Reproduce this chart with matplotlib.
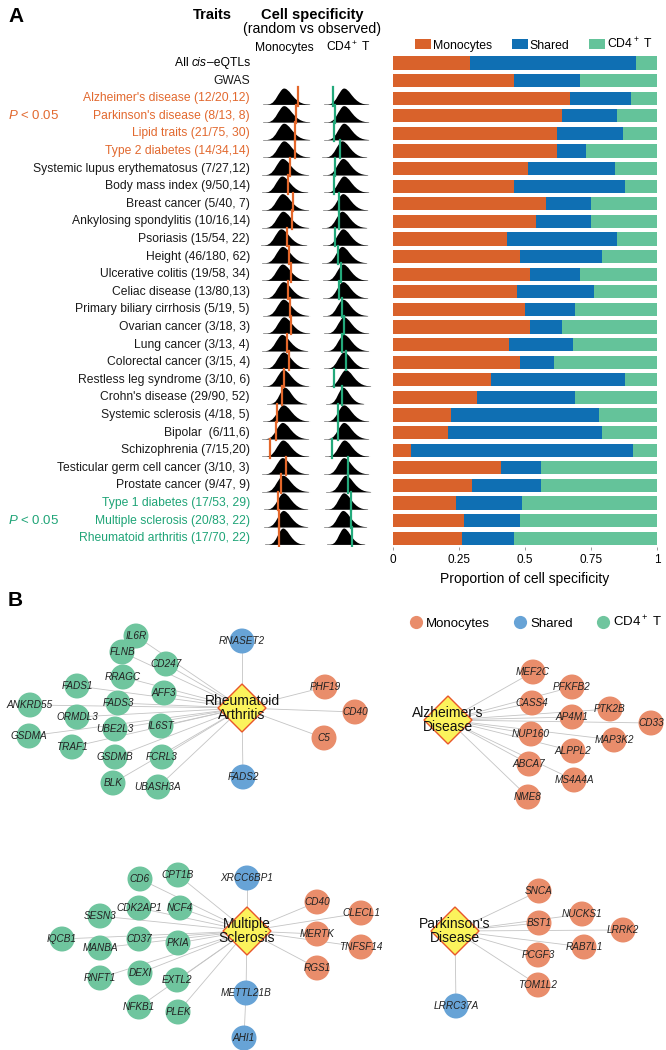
import matplotlib
matplotlib.use('Agg')
import matplotlib.pyplot as plt
import matplotlib.transforms as mtransforms
from matplotlib.patches import Circle, Polygon
from matplotlib.lines import Line2D

plt.rcParams['font.family'] = ['Liberation Sans', 'DejaVu Sans']
plt.rcParams['mathtext.fontset'] = 'custom'
plt.rcParams['mathtext.rm'] = 'Liberation Sans'
plt.rcParams['mathtext.it'] = 'Liberation Sans:italic'
plt.rcParams['mathtext.bf'] = 'Liberation Sans:bold'

W, H = 666, 1050

# ---------------- Panel A data ----------------
traits = ['All cis\u2013eQTLs', 'GWAS',
          "Alzheimer's disease (12/20,12)", "Parkinson's disease (8/13, 8)",
          'Lipid traits (21/75, 30)', 'Type 2 diabetes (14/34,14)',
          'Systemic lupus erythematosus (7/27,12)', 'Body mass index (9/50,14)',
          'Breast cancer (5/40, 7)', 'Ankylosing spondylitis (10/16,14)',
          'Psoriasis (15/54, 22)', 'Height (46/180, 62)',
          'Ulcerative colitis (19/58, 34)', 'Celiac disease (13/80,13)',
          'Primary biliary cirrhosis (5/19, 5)', 'Ovarian cancer (3/18, 3)',
          'Lung cancer (3/13, 4)', 'Colorectal cancer (3/15, 4)',
          'Restless leg syndrome (3/10, 6)', "Crohn's disease (29/90, 52)",
          'Systemic sclerosis (4/18, 5)', 'Bipolar  (6/11,6)',
          'Schizophrenia (7/15,20)', 'Testicular germ cell cancer (3/10, 3)',
          'Prostate cancer (9/47, 9)', 'Type 1 diabetes (17/53, 29)',
          'Multiple sclerosis (20/83, 22)', 'Rheumatoid arthritis (17/70, 22)']
trait_group = ['n', 'n', 'mono', 'mono', 'mono', 'mono'] + ['n'] * 19 + ['cd4', 'cd4', 'cd4']

frac_mono = [0.29, 0.46, 0.67, 0.64, 0.62, 0.62, 0.51, 0.46, 0.58, 0.54,
             0.43, 0.48, 0.52, 0.47, 0.50, 0.52, 0.44, 0.48, 0.37, 0.32,
             0.22, 0.21, 0.07, 0.41, 0.30, 0.24, 0.27, 0.26]
frac_shared = [0.63, 0.25, 0.23, 0.21, 0.25, 0.11, 0.33, 0.42, 0.17, 0.21,
               0.42, 0.31, 0.19, 0.29, 0.19, 0.12, 0.24, 0.13, 0.51, 0.37,
               0.56, 0.58, 0.84, 0.15, 0.26, 0.25, 0.21, 0.20]
frac_cd4 = [0.08, 0.29, 0.10, 0.15, 0.13, 0.27, 0.16, 0.12, 0.25, 0.25,
            0.15, 0.21, 0.29, 0.24, 0.31, 0.36, 0.32, 0.39, 0.12, 0.31,
            0.22, 0.21, 0.09, 0.44, 0.44, 0.51, 0.52, 0.54]

# random (permutation) distributions: peak position & relative width, rows 2..27
rand_mono_peak = [0.36, 0.36, 0.36, 0.36, 0.33, 0.32, 0.33, 0.34, 0.30, 0.33,
                  0.33, 0.35, 0.35, 0.36, 0.32, 0.35, 0.35, 0.38, 0.35, 0.33,
                  0.34, 0.33, 0.34, 0.35, 0.35, 0.34]
rand_cd4_peak = [0.34, 0.34, 0.34, 0.30, 0.32, 0.34, 0.32, 0.30, 0.32, 0.30,
                 0.32, 0.32, 0.32, 0.34, 0.34, 0.34, 0.38, 0.32, 0.34, 0.34,
                 0.35, 0.34, 0.38, 0.34, 0.32, 0.34]
rand_width = [1.0, 1.0, 1.0, 1.0, 1.0, 1.0, 1.0, 1.0, 1.0, 1.0,
              1.0, 1.0, 1.0, 1.0, 1.0, 1.0, 1.0, 0.85, 1.0, 1.0,
              1.0, 1.0, 1.0, 0.95, 0.95, 0.85]
# typical density shape (relative height at offsets in units of spread)
ridge_offsets = [-1.2, -1.0, -0.8, -0.6, -0.4, -0.2, -0.1, 0.0, 0.1, 0.2, 0.4, 0.6,
                 0.8, 1.0, 1.2, 1.4, 1.6, 1.8, 2.0]
ridge_heights = [0.0, 0.04, 0.14, 0.34, 0.62, 0.87, 0.96, 1.0, 0.99, 0.95, 0.80, 0.59,
                 0.40, 0.25, 0.14, 0.07, 0.03, 0.01, 0.0]

# ---------------- Panel B data ----------------
ra_genes = ['IL6R', 'RNASET2', 'FLNB', 'CD247', 'RRAGC', 'AFF3', 'FADS1', 'FADS3',
            'ANKRD55', 'ORMDL3', 'UBE2L3', 'IL6ST', 'GSDMA', 'TRAF1', 'GSDMB',
            'FCRL3', 'BLK', 'UBASH3A', 'FADS2', 'PHF19', 'CD40', 'C5']
ra_type = ['cd4', 'shared', 'cd4', 'cd4', 'cd4', 'cd4', 'cd4', 'cd4', 'cd4', 'cd4',
           'cd4', 'cd4', 'cd4', 'cd4', 'cd4', 'cd4', 'cd4', 'cd4', 'shared',
           'mono', 'mono', 'mono']
ra_x = [136, 242, 122, 166, 123, 164, 77, 118, 30, 77, 115, 161, 29, 72, 115,
        162, 113, 158, 243, 325, 355, 324]
ra_y = [636, 641, 652, 664, 677, 693, 686, 703, 705, 717, 729, 726, 736, 747,
        757, 757, 783, 787, 777, 687, 712, 738]

ad_genes = ['MEF2C', 'PFKFB2', 'CASS4', 'PTK2B', 'AP4M1', 'CD33', 'NUP160',
            'MAP3K2', 'ALPPL2', 'ABCA7', 'MS4A4A', 'NME8']
ad_type = ['mono'] * 12
ad_x = [533, 572, 532, 610, 572, 651, 531, 614, 573, 529, 574, 528]
ad_y = [672, 687, 703, 709, 717, 723, 734, 740, 751, 764, 780, 797]

ms_genes = ['XRCC6BP1', 'CD6', 'CPT1B', 'CDK2AP1', 'NCF4', 'SESN3', 'IQCB1',
            'MANBA', 'CD37', 'PKIA', 'DEXI', 'EXTL2', 'RNFT1', 'NFKB1', 'PLEK',
            'METTL21B', 'AHI1', 'CD40', 'MERTK', 'RGS1', 'CLECL1', 'TNFSF14']
ms_type = ['shared'] + ['cd4'] * 14 + ['shared', 'shared'] + ['mono'] * 5
ms_x = [247, 140, 178, 139, 180, 100, 62, 100, 139, 178, 140, 177, 100, 139,
        178, 246, 244, 317, 317, 317, 361, 361]
ms_y = [878, 879, 875, 908, 908, 916, 939, 948, 939, 943, 973, 980, 978, 1007,
        1012, 993, 1038, 902, 934, 968, 913, 947]
ms_parent = ['hub'] * 16 + ['METTL21B'] + ['hub'] * 5

pd_genes = ['SNCA', 'BST1', 'NUCKS1', 'LRRK2', 'RAB7L1', 'PCGF3', 'TOM1L2', 'LRRC37A']
pd_type = ['mono'] * 7 + ['shared']
pd_x = [539, 539, 582, 623, 584, 538, 538, 456]
pd_y = [891, 923, 914, 930, 947, 955, 985, 1006]

# ---------------- styles ----------------
bar_col = {'mono': '#D9622B', 'shared': '#0F6FB3', 'cd4': '#64C39A'}
node_col = {'mono': '#E98D6B', 'shared': '#67A3D6', 'cd4': '#6FC59E'}
txt_col = {'n': '#1a1a1a', 'mono': '#E2692F', 'cd4': '#1FA477'}
line_mono = '#E4672A'
line_cd4 = '#23A97B'

fig = plt.figure(figsize=(W / 100, H / 100), dpi=100)


def fbox(x0, y0, x1, y1):
    # pixel box -> figure fraction rect
    return [x0 / W, 1 - y1 / H, (x1 - x0) / W, (y1 - y0) / H]


row0, rstep = 63.0, 17.6
n_rows = len(traits)
ytop = row0 - rstep / 2
ybot = row0 + (n_rows - 1) * rstep + rstep / 2

# ---- stacked bars ----
ax_bar = fig.add_axes(fbox(393, ytop, 657, ybot))
rows = list(range(n_rows))
left2 = [m + s for m, s in zip(frac_mono, frac_shared)]
ax_bar.barh(rows, frac_mono, height=0.76, color=bar_col['mono'], label='Monocytes')
ax_bar.barh(rows, frac_shared, left=frac_mono, height=0.76, color=bar_col['shared'], label='Shared')
ax_bar.barh(rows, frac_cd4, left=left2, height=0.76, color=bar_col['cd4'], label='CD4$^+$ T')
ax_bar.set_xlim(0, 1)
ax_bar.set_ylim(n_rows - 0.5, -0.5)
for sp in ax_bar.spines.values():
    sp.set_visible(False)
ax_bar.set_yticks([])
ax_bar.set_xticks([0, 0.25, 0.5, 0.75, 1])
ax_bar.set_xticklabels(['0', '0.25', '0.5', '0.75', '1'])
ax_bar.tick_params(axis='x', length=2, width=0.6, color='#888888', labelsize=8.5, pad=3)
ax_bar.set_xlabel('Proportion of cell specificity', fontsize=10, labelpad=4)
ax_bar.legend(loc='center right', bbox_to_anchor=(652 / W, 1 - 44 / H), bbox_transform=fig.transFigure,
              ncol=3, frameon=False, fontsize=8.8, handlelength=1.3, handleheight=0.85,
              handletextpad=0.15, columnspacing=1.6, borderpad=0, borderaxespad=0)

# ---- ridgelines ----
def ridge_axes(x_zero, scale):
    lo, hi = -0.25, 1.05
    ax = fig.add_axes(fbox(x_zero + lo * scale, ytop, x_zero + hi * scale, ybot))
    ax.set_xlim(lo, hi)
    ax.set_ylim(n_rows - 0.5, -0.5)
    ax.axis('off')
    return ax


ax_rm = ridge_axes(266.8, 46)
ax_rc = ridge_axes(328.4, 44)
spread = 0.3
for k in range(n_rows - 2):
    i = k + 2
    base = i + 0.35
    for ax, peak, obs, lc in [(ax_rm, rand_mono_peak[k], frac_mono[i], line_mono),
                              (ax_rc, rand_cd4_peak[k], frac_cd4[i], line_cd4)]:
        s = spread * rand_width[k]
        xs = [peak + o * s for o in ridge_offsets]
        ys = [base - 0.93 * h for h in ridge_heights]
        ax.plot([peak - 1.45 * s, peak + 1.85 * s], [base, base], color='#777777', lw=0.5, zorder=2 + k * 0.01)
        ax.fill_between(xs, ys, base, color='black', lw=0, zorder=2 + k * 0.01)
        ax.plot([obs, obs], [i - 0.62, i + 0.42], color=lc, lw=1.6, zorder=5)

# ---- trait labels ----
tr = mtransforms.blended_transform_factory(fig.transFigure, ax_bar.transData)
for i, (lab, g) in enumerate(zip(traits, trait_group)):
    if i == 0:
        # "All cis–eQTLs" with italic "cis"
        t1 = fig.text(250 / W, i, '\u2013eQTLs', transform=tr, ha='right', va='center', fontsize=8.7)
        t2 = ax_bar.annotate('cis', xy=(0, 0), xycoords=t1, ha='right', va='bottom',
                             fontsize=8.7, style='italic', annotation_clip=False)
        ax_bar.annotate('All ', xy=(0, 0), xycoords=t2, ha='right', va='bottom',
                        fontsize=8.7, annotation_clip=False)
        continue
    fig.text(250 / W, i, lab, transform=tr, ha='right', va='center', fontsize=8.7, color=txt_col[g])
fig.text(8 / W, 3, '$P$ < 0.05', transform=tr, ha='left', va='center', fontsize=9.5, color=txt_col['mono'])
fig.text(8 / W, 26, '$P$ < 0.05', transform=tr, ha='left', va='center', fontsize=9.5, color=txt_col['cd4'])

fig.text(8 / W, 1 - 17 / H, 'A', fontsize=15, fontweight='bold', va='center')
fig.text(212 / W, 1 - 15 / H, 'Traits', fontsize=10.5, fontweight='bold', ha='center', va='center')
fig.text(312 / W, 1 - 15 / H, 'Cell specificity', fontsize=10.5, fontweight='bold', ha='center', va='center')
fig.text(312 / W, 1 - 29 / H, '(random vs observed)', fontsize=10.2, ha='center', va='center')
fig.text(284 / W, 1 - 48 / H, 'Monocytes', fontsize=8.7, ha='center', va='center')
fig.text(348 / W, 1 - 47 / H, 'CD4$^+$ T', fontsize=8.7, ha='center', va='center')

# ---------------- Panel B ----------------
fig.text(8 / W, 1 - 600 / H, 'B', fontsize=15, fontweight='bold', va='center')
ax_net = fig.add_axes(fbox(0, 590, W, H))
ax_net.set_xlim(0, W)
ax_net.set_ylim(H, 590)
ax_net.axis('off')


def render(hub_label, hub_xy, genes, types, xs, ys, parents=None):
    if parents is None:
        parents = ['hub'] * len(genes)
    pos = {g: (x, y) for g, x, y in zip(genes, xs, ys)}
    hx, hy = hub_xy
    for g, p in zip(genes, parents):
        sx, sy = (hx, hy) if p == 'hub' else pos[p]
        ax_net.plot([sx, pos[g][0]], [sy, pos[g][1]], color='#C4C4C4', lw=0.6, zorder=1)
    for g, t in zip(genes, types):
        ax_net.add_patch(Circle(pos[g], 12.5, facecolor=node_col[t], edgecolor='none', zorder=3))
        ax_net.text(pos[g][0], pos[g][1], g, fontsize=7.2, style='italic', ha='center',
                    va='center', color='#222222', zorder=6)
    d = 24
    ax_net.add_patch(Polygon([(hx - d, hy), (hx, hy - d), (hx + d, hy), (hx, hy + d)],
                             closed=True, facecolor='#FBF35C', edgecolor='#E8562A', lw=1.0, zorder=4))
    ax_net.text(hx, hy, hub_label, fontsize=10, ha='center', va='center', linespacing=0.95,
                color='#111111', zorder=7)


render('Rheumatoid\nArthritis', (242, 708), ra_genes, ra_type, ra_x, ra_y)
render("Alzheimer's\nDisease", (448, 720), ad_genes, ad_type, ad_x, ad_y)
render('Multiple\nSclerosis', (247, 931), ms_genes, ms_type, ms_x, ms_y, ms_parent)
render("Parkinson's\nDisease", (455, 931), pd_genes, pd_type, pd_x, pd_y)

leg_handles = [Line2D([], [], marker='o', ls='none', markersize=9.5, markerfacecolor=node_col[k],
                      markeredgecolor='none') for k in ['mono', 'shared', 'cd4']]
ax_net.legend(leg_handles, ['Monocytes', 'Shared', 'CD4$^+$ T'], loc='center right',
              bbox_to_anchor=(662 / W, 1 - 622 / H), bbox_transform=fig.transFigure,
              ncol=3, frameon=False, fontsize=9.5, handlelength=0.8, handletextpad=0.35,
              columnspacing=1.9, borderpad=0, borderaxespad=0)

fig.savefig('out.png', dpi=100)
